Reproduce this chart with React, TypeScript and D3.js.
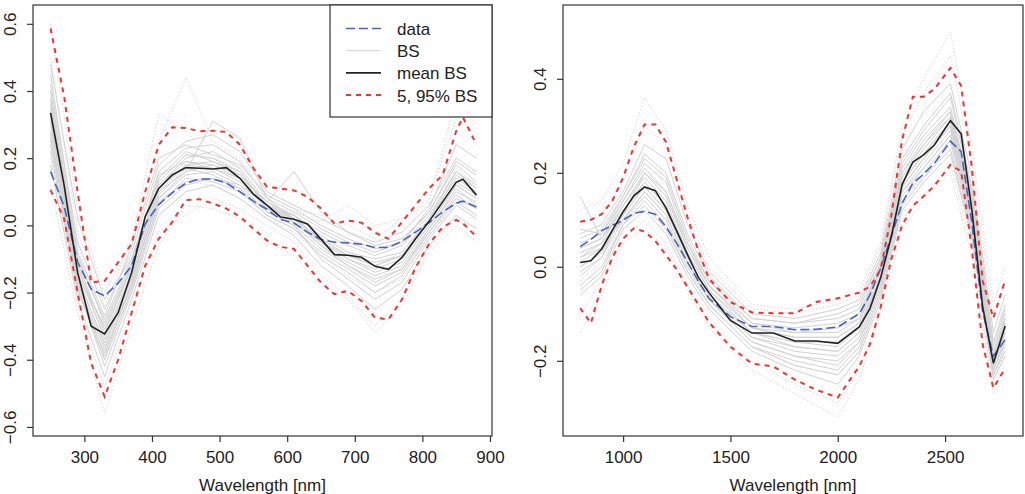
import React, { useEffect, useRef } from "react";
import * as d3 from "d3";

// ---- left panel (VIS) ----
const leftWavelengths = [
  250, 270, 290, 310, 330, 350, 370, 390, 410, 430, 450, 470, 490, 510, 530, 550,
  570, 590, 610, 630, 650, 670, 690, 710, 730, 750, 770, 790, 810, 830, 850, 860, 880,
];
const leftData = [
  0.16, 0.057, -0.109, -0.19, -0.21, -0.172, -0.12, 0.005, 0.062, 0.097, 0.125, 0.138,
  0.138, 0.126, 0.1, 0.072, 0.048, 0.018, 0.007, -0.02, -0.042, -0.05, -0.052, -0.056,
  -0.066, -0.066, -0.047, -0.02, 0.008, 0.04, 0.066, 0.072, 0.055,
];
const leftMean = [
  0.335, 0.12, -0.14, -0.3, -0.323, -0.26, -0.14, 0.026, 0.11, 0.15, 0.172, 0.17,
  0.168, 0.172, 0.14, 0.093, 0.06, 0.025, 0.018, 0.004, -0.041, -0.087, -0.089, -0.095,
  -0.122, -0.131, -0.095, -0.04, 0.012, 0.07, 0.128, 0.137, 0.09,
];
const leftUpper = [
  0.586, 0.385, 0.1, -0.17, -0.165, -0.11, -0.055, 0.1, 0.24, 0.292, 0.29, 0.28,
  0.282, 0.278, 0.24, 0.17, 0.115, 0.11, 0.104, 0.085, 0.05, 0.005, 0.014, 0.008,
  -0.022, -0.04, 0.01, 0.06, 0.11, 0.15, 0.28, 0.322, 0.24,
];
const leftLower = [
  0.105, 0.02, -0.2, -0.41, -0.51, -0.4, -0.26, -0.12, -0.04, 0.01, 0.075, 0.078,
  0.065, 0.05, 0.026, -0.01, -0.045, -0.064, -0.07, -0.12, -0.17, -0.205, -0.195, -0.225,
  -0.275, -0.28, -0.22, -0.125, -0.055, -0.005, 0.016, 0.006, -0.034,
];
const leftBsWavelengths = [250, 290, 330, 370, 410, 450, 490, 530, 570, 610, 650, 690, 730, 770, 810, 850, 880];
const leftBsSolid = [
  [0.30, -0.15, -0.30, -0.12, 0.12, 0.20, 0.22, 0.17, 0.07, 0.03, -0.03, -0.08, -0.10, -0.08, 0.02, 0.14, 0.10],
  [0.42, -0.05, -0.25, -0.08, 0.18, 0.25, 0.27, 0.22, 0.10, 0.06, 0.02, -0.02, -0.05, -0.02, 0.06, 0.20, 0.16],
  [0.22, -0.20, -0.38, -0.18, 0.06, 0.14, 0.13, 0.10, 0.03, -0.01, -0.08, -0.13, -0.18, -0.14, -0.02, 0.08, 0.05],
  [0.35, -0.12, -0.34, -0.15, 0.10, 0.16, 0.31, 0.26, 0.08, 0.02, -0.05, -0.10, -0.13, -0.10, 0.00, 0.12, 0.08],
  [0.48, 0.02, -0.22, -0.10, 0.15, 0.19, 0.18, 0.15, 0.07, 0.16, 0.04, -0.02, -0.06, -0.04, 0.04, 0.18, 0.13],
  [0.26, -0.18, -0.42, -0.20, 0.05, 0.12, 0.14, 0.12, 0.04, 0.00, -0.10, -0.16, -0.22, -0.17, -0.04, 0.06, 0.02],
  [0.38, -0.10, -0.28, -0.10, 0.14, 0.22, 0.19, 0.16, 0.05, 0.03, -0.02, -0.06, -0.09, -0.06, 0.03, 0.16, 0.12],
  [0.32, -0.16, -0.35, -0.16, 0.08, 0.15, 0.16, 0.12, 0.06, 0.01, -0.06, -0.11, -0.15, -0.12, -0.01, 0.10, 0.07],
  [0.45, -0.08, -0.27, -0.06, 0.20, 0.24, 0.21, 0.18, 0.09, 0.05, 0.00, -0.04, -0.07, -0.05, 0.05, 0.24, 0.20],
  [0.18, -0.22, -0.45, -0.22, 0.03, 0.10, 0.12, 0.08, 0.02, -0.03, -0.12, -0.18, -0.25, -0.19, -0.06, 0.03, -0.01],
  [0.36, -0.13, -0.31, -0.13, 0.11, 0.18, 0.17, 0.14, 0.07, 0.02, -0.04, -0.09, -0.11, -0.09, 0.01, 0.13, 0.09],
  [0.28, -0.17, -0.37, -0.17, 0.09, 0.17, 0.15, 0.11, 0.04, 0.00, -0.07, -0.12, -0.17, -0.13, -0.01, 0.11, 0.06],
  [0.33, -0.14, -0.33, -0.14, 0.13, 0.21, 0.20, 0.16, 0.06, 0.02, -0.04, -0.09, -0.12, -0.09, 0.01, 0.15, 0.11],
  [0.40, -0.09, -0.29, -0.11, 0.16, 0.23, 0.24, 0.19, 0.08, 0.04, -0.01, -0.05, -0.08, -0.05, 0.04, 0.19, 0.15],
  [0.24, -0.19, -0.40, -0.19, 0.07, 0.13, 0.14, 0.11, 0.03, -0.01, -0.09, -0.14, -0.20, -0.15, -0.03, 0.07, 0.03],
  [0.31, -0.15, -0.36, -0.15, 0.10, 0.18, 0.19, 0.15, 0.06, 0.03, -0.05, -0.10, -0.14, -0.11, 0.00, 0.12, 0.08],
  [0.37, -0.11, -0.32, -0.12, 0.12, 0.19, 0.17, 0.13, 0.05, 0.01, -0.05, -0.09, -0.12, -0.09, 0.02, 0.16, 0.11],
  [0.27, -0.17, -0.39, -0.17, 0.08, 0.16, 0.18, 0.14, 0.05, 0.02, -0.06, -0.12, -0.16, -0.13, -0.02, 0.09, 0.05],
];
const leftBsDotted = [
  [0.60, 0.05, -0.20, -0.05, 0.25, 0.44, 0.25, 0.20, 0.09, 0.05, 0.03, 0.00, -0.04, 0.02, 0.08, 0.32, 0.27],
  [0.12, -0.26, -0.56, -0.30, -0.06, 0.06, 0.05, 0.02, -0.05, -0.09, -0.18, -0.22, -0.32, -0.24, -0.08, 0.00, -0.05],
  [0.50, -0.02, -0.24, -0.04, 0.33, 0.28, 0.20, 0.17, 0.06, 0.04, 0.01, 0.06, 0.00, 0.02, 0.07, 0.38, 0.30],
  [0.20, -0.24, -0.48, -0.25, -0.02, 0.03, 0.08, 0.05, 0.00, -0.05, -0.15, -0.21, -0.30, -0.22, -0.07, 0.02, -0.03],
  [0.40, -0.06, -0.30, -0.12, 0.13, 0.21, 0.20, 0.15, 0.05, 0.02, -0.04, -0.08, -0.12, -0.08, 0.02, 0.17, 0.12],
  [0.25, -0.19, -0.40, -0.19, 0.07, 0.13, 0.12, 0.08, 0.02, -0.02, -0.09, -0.15, -0.20, -0.16, -0.03, 0.08, 0.03],
];
const leftXTicks = [300, 400, 500, 600, 700, 800, 900];
const leftYTicks = [-0.6, -0.4, -0.2, 0, 0.2, 0.4, 0.6];

// ---- right panel (SWIR) ----
const rightWavelengths = [
  800, 850, 900, 950, 1000, 1050, 1100, 1150, 1200, 1250, 1300, 1350, 1400, 1500, 1600,
  1700, 1800, 1900, 2000, 2100, 2150, 2200, 2250, 2300, 2350, 2400, 2450, 2525, 2575,
  2625, 2675, 2725, 2780,
];
const rightData = [
  0.043, 0.058, 0.077, 0.088, 0.099, 0.114, 0.118, 0.112, 0.085, 0.05, 0.01, -0.03, -0.067,
  -0.106, -0.127, -0.127, -0.134, -0.133, -0.128, -0.1, -0.06, -0.003, 0.066, 0.135, 0.178,
  0.197, 0.22, 0.267, 0.245, 0.093, -0.095, -0.19, -0.155,
];
const rightMean = [
  0.009, 0.013, 0.038, 0.078, 0.117, 0.151, 0.17, 0.162, 0.125, 0.076, 0.026, -0.022, -0.055,
  -0.114, -0.141, -0.141, -0.158, -0.158, -0.163, -0.128, -0.089, -0.023, 0.065, 0.175, 0.223,
  0.238, 0.259, 0.311, 0.283, 0.12, -0.085, -0.205, -0.126,
];
const rightUpper = [
  0.096, 0.1, 0.112, 0.14, 0.19, 0.255, 0.303, 0.303, 0.265, 0.185, 0.105, 0.035, -0.025,
  -0.075, -0.097, -0.099, -0.099, -0.075, -0.067, -0.055, -0.042, -0.005, 0.11, 0.27, 0.362,
  0.362, 0.378, 0.423, 0.385, 0.21, -0.03, -0.109, -0.028,
];
const rightLower = [
  -0.088, -0.12, -0.04, 0.02, 0.06, 0.082, 0.075, 0.055, 0.025, -0.006, -0.043, -0.08, -0.118,
  -0.17, -0.206, -0.212, -0.24, -0.262, -0.278, -0.212, -0.165, -0.085, 0.017, 0.088, 0.13,
  0.15, 0.172, 0.217, 0.203, 0.036, -0.165, -0.258, -0.216,
];
const rightBsWavelengths = [800, 900, 1000, 1100, 1200, 1300, 1400, 1600, 1800, 2000, 2100, 2200, 2300, 2400, 2525, 2625, 2725, 2780];
const rightBsSolid = [
  [0.02, 0.05, 0.13, 0.19, 0.14, 0.03, -0.05, -0.13, -0.15, -0.15, -0.12, 0.00, 0.19, 0.25, 0.32, 0.13, -0.20, -0.12],
  [0.06, 0.08, 0.15, 0.24, 0.20, 0.07, -0.02, -0.11, -0.12, -0.10, -0.08, 0.02, 0.23, 0.30, 0.37, 0.17, -0.16, -0.08],
  [-0.04, 0.00, 0.09, 0.14, 0.09, -0.01, -0.08, -0.17, -0.20, -0.22, -0.17, -0.05, 0.14, 0.20, 0.27, 0.08, -0.23, -0.17],
  [0.15, 0.06, 0.12, 0.17, 0.12, 0.02, -0.06, -0.14, -0.16, -0.17, -0.13, -0.02, 0.17, 0.23, 0.30, 0.11, -0.21, -0.14],
  [0.00, 0.03, 0.11, 0.20, 0.16, 0.05, -0.04, -0.12, -0.13, -0.12, -0.10, 0.01, 0.21, 0.28, 0.34, 0.15, -0.18, -0.10],
  [-0.06, -0.02, 0.08, 0.12, 0.07, -0.02, -0.09, -0.18, -0.22, -0.25, -0.19, -0.07, 0.12, 0.18, 0.24, 0.06, -0.24, -0.19],
  [0.04, 0.06, 0.14, 0.22, 0.18, 0.05, -0.03, -0.12, -0.14, -0.13, -0.11, 0.00, 0.20, 0.27, 0.33, 0.14, -0.19, -0.11],
  [0.01, 0.04, 0.10, 0.16, 0.11, 0.01, -0.07, -0.15, -0.18, -0.19, -0.15, -0.03, 0.16, 0.22, 0.29, 0.10, -0.22, -0.15],
  [0.07, 0.09, 0.16, 0.26, 0.23, 0.09, -0.01, -0.10, -0.11, -0.09, -0.07, 0.03, 0.25, 0.33, 0.39, 0.19, -0.14, -0.06],
  [-0.02, 0.02, 0.12, 0.18, 0.13, 0.02, -0.06, -0.14, -0.17, -0.18, -0.14, -0.02, 0.18, 0.24, 0.31, 0.12, -0.21, -0.13],
  [0.03, 0.05, 0.10, 0.15, 0.10, 0.00, -0.07, -0.16, -0.19, -0.21, -0.16, -0.04, 0.15, 0.21, 0.28, 0.09, -0.22, -0.16],
  [0.05, 0.07, 0.14, 0.21, 0.16, 0.04, -0.04, -0.13, -0.14, -0.14, -0.11, 0.01, 0.20, 0.26, 0.33, 0.14, -0.19, -0.11],
  [0.00, 0.03, 0.12, 0.18, 0.13, 0.03, -0.05, -0.14, -0.16, -0.16, -0.13, -0.01, 0.18, 0.24, 0.31, 0.12, -0.20, -0.13],
  [0.08, 0.07, 0.15, 0.23, 0.19, 0.06, -0.03, -0.11, -0.12, -0.11, -0.09, 0.02, 0.22, 0.29, 0.36, 0.16, -0.17, -0.09],
  [-0.05, -0.01, 0.09, 0.13, 0.08, -0.01, -0.08, -0.17, -0.21, -0.23, -0.18, -0.06, 0.13, 0.19, 0.25, 0.07, -0.23, -0.18],
  [0.02, 0.04, 0.11, 0.17, 0.12, 0.02, -0.06, -0.15, -0.17, -0.18, -0.14, -0.02, 0.17, 0.23, 0.30, 0.11, -0.21, -0.14],
  [0.04, 0.06, 0.13, 0.20, 0.15, 0.04, -0.04, -0.13, -0.15, -0.15, -0.12, 0.00, 0.19, 0.26, 0.32, 0.13, -0.19, -0.12],
  [-0.01, 0.02, 0.10, 0.16, 0.11, 0.01, -0.07, -0.16, -0.19, -0.20, -0.16, -0.04, 0.16, 0.21, 0.28, 0.10, -0.22, -0.16],
];
const rightBsDotted = [
  [0.12, 0.14, 0.22, 0.36, 0.29, 0.13, 0.02, -0.08, -0.09, -0.07, -0.05, 0.05, 0.30, 0.40, 0.50, 0.25, -0.08, 0.00],
  [-0.14, -0.06, 0.05, 0.08, 0.04, -0.05, -0.13, -0.22, -0.27, -0.32, -0.24, -0.10, 0.08, 0.14, 0.20, 0.02, -0.27, -0.23],
  [0.09, 0.11, 0.18, 0.30, 0.26, 0.11, 0.00, -0.09, -0.10, -0.08, -0.06, 0.04, 0.28, 0.37, 0.45, 0.22, -0.11, -0.03],
  [-0.10, -0.03, 0.06, 0.10, 0.05, -0.04, -0.12, -0.20, -0.25, -0.29, -0.22, -0.09, 0.10, 0.15, 0.22, 0.04, -0.26, -0.21],
  [0.03, 0.05, 0.13, 0.20, 0.15, 0.04, -0.05, -0.14, -0.16, -0.16, -0.12, 0.00, 0.18, 0.24, 0.31, 0.12, -0.20, -0.12],
  [-0.03, 0.01, 0.09, 0.15, 0.10, 0.00, -0.08, -0.17, -0.21, -0.23, -0.18, -0.05, 0.14, 0.19, 0.26, 0.07, -0.24, -0.18],
];
const rightXTicks = [1000, 1500, 2000, 2500];
const rightYTicks = [-0.2, 0, 0.2, 0.4];

const legendLabels = ["data", "BS", "mean BS", "5, 95% BS"];

const FONT = "'Liberation Sans', Arial, Helvetica, sans-serif";
const FONT_SIZE = 17;
const BLUE = "#4863c3";
const RED = "#ea3535";
const GREY = "#d2d2d2";

const App: React.FC = () => {
  const svgRef = useRef<SVGSVGElement>(null);

  useEffect(() => {
    if (!svgRef.current) return;
    const svg = d3.select(svgRef.current);
    svg.selectAll("*").remove();

    const top = 5;
    const bottom = 436;

    const panels = [
      {
        left: 33, right: 492, xDomain: [224, 903], yDomain: [-0.627, 0.656],
        wl: leftWavelengths, data: leftData, mean: leftMean, upper: leftUpper, lower: leftLower,
        bsWl: leftBsWavelengths, bsSolid: leftBsSolid, bsDotted: leftBsDotted,
        xTicks: leftXTicks, yTicks: leftYTicks, legend: true,
      },
      {
        left: 563, right: 1023, xDomain: [720, 2863], yDomain: [-0.36, 0.557],
        wl: rightWavelengths, data: rightData, mean: rightMean, upper: rightUpper, lower: rightLower,
        bsWl: rightBsWavelengths, bsSolid: rightBsSolid, bsDotted: rightBsDotted,
        xTicks: rightXTicks, yTicks: rightYTicks, legend: false,
      },
    ];

    const fmtY = (v: number) => d3.format(".1f")(v).replace("-", "\u2212");

    panels.forEach((p) => {
      const x = d3.scaleLinear().domain(p.xDomain).range([p.left, p.right]);
      const y = d3.scaleLinear().domain(p.yDomain).range([bottom, top]);
      const lineFor = (wl: number[]) =>
        d3.line<number>().x((_, i) => x(wl[i])).y((d) => y(d));

      const g = svg.append("g");

      // bootstrap curves
      g.append("g")
        .selectAll("path")
        .data(p.bsDotted)
        .join("path")
        .attr("d", (d) => lineFor(p.bsWl)(d))
        .attr("fill", "none")
        .attr("stroke", "#d8d8d8")
        .attr("stroke-width", 1)
        .attr("stroke-dasharray", "1.5,2");

      g.append("g")
        .selectAll("path")
        .data(p.bsSolid)
        .join("path")
        .attr("d", (d) => lineFor(p.bsWl)(d))
        .attr("fill", "none")
        .attr("stroke", GREY)
        .attr("stroke-width", 1);

      g.append("path")
        .attr("d", lineFor(p.wl)(p.data))
        .attr("fill", "none")
        .attr("stroke", BLUE)
        .attr("stroke-width", 1.6)
        .attr("stroke-dasharray", "9,4");

      g.append("path")
        .attr("d", lineFor(p.wl)(p.mean))
        .attr("fill", "none")
        .attr("stroke", "#222")
        .attr("stroke-width", 1.6);

      [p.upper, p.lower].forEach((band) => {
        g.append("path")
          .attr("d", lineFor(p.wl)(band))
          .attr("fill", "none")
          .attr("stroke", RED)
          .attr("stroke-width", 2)
          .attr("stroke-dasharray", "5,5");
      });

      // box
      g.append("rect")
        .attr("x", p.left)
        .attr("y", top)
        .attr("width", p.right - p.left)
        .attr("height", bottom - top)
        .attr("fill", "none")
        .attr("stroke", "#333")
        .attr("stroke-width", 1.2);

      // x axis
      const xAxis = g.append("g")
        .attr("transform", `translate(0,${bottom})`)
        .call(d3.axisBottom(x).tickValues(p.xTicks).tickSize(6).tickSizeOuter(0).tickFormat(d3.format("d")));
      xAxis.select(".domain").remove();
      xAxis.selectAll(".tick line").attr("stroke", "#333").attr("stroke-width", 1.2);
      xAxis.selectAll(".tick text")
        .attr("y", 27)
        .attr("dy", 0)
        .attr("fill", "#222")
        .style("font-family", FONT)
        .style("font-size", `${FONT_SIZE}px`);

      // y axis
      const yAxis = g.append("g")
        .attr("transform", `translate(${p.left},0)`)
        .call(d3.axisLeft(y).tickValues(p.yTicks).tickSize(6).tickSizeOuter(0).tickFormat((d) => fmtY(d as number)));
      yAxis.select(".domain").remove();
      yAxis.selectAll(".tick line").attr("stroke", "#333").attr("stroke-width", 1.2);
      yAxis.selectAll(".tick text")
        .attr("transform", "rotate(-90)")
        .attr("x", 0)
        .attr("y", -17)
        .attr("dy", 0)
        .attr("text-anchor", "middle")
        .attr("fill", "#222")
        .style("font-family", FONT)
        .style("font-size", `${FONT_SIZE}px`);

      g.append("text")
        .attr("x", (p.left + p.right) / 2)
        .attr("y", 491)
        .attr("text-anchor", "middle")
        .attr("fill", "#222")
        .style("font-family", FONT)
        .style("font-size", `${FONT_SIZE}px`)
        .text("Wavelength [nm]");

      if (p.legend) {
        const lg = g.append("g");
        lg.append("rect")
          .attr("x", 330)
          .attr("y", top)
          .attr("width", p.right - 330)
          .attr("height", 112)
          .attr("fill", "white")
          .attr("stroke", "#333")
          .attr("stroke-width", 1.2);
        const styles = [
          { stroke: BLUE, width: 1.6, dash: "9,4" },
          { stroke: GREY, width: 1, dash: null },
          { stroke: "#222", width: 1.6, dash: null },
          { stroke: RED, width: 2, dash: "5,5" },
        ];
        legendLabels.forEach((label, i) => {
          const by = 35 + i * 22.2;
          const s = styles[i];
          const ln = lg.append("line")
            .attr("x1", 346)
            .attr("x2", 381)
            .attr("y1", by - 6.5)
            .attr("y2", by - 6.5)
            .attr("stroke", s.stroke)
            .attr("stroke-width", s.width);
          if (s.dash) ln.attr("stroke-dasharray", s.dash);
          lg.append("text")
            .attr("x", 397)
            .attr("y", by)
            .attr("fill", "#222")
            .style("font-family", FONT)
            .style("font-size", `${FONT_SIZE}px`)
            .text(label);
        });
      }
    });
  }, []);

  return (
    <svg
      ref={svgRef}
      width={1025}
      height={494}
      style={{ position: "absolute", left: 0, top: 0, background: "white" }}
    />
  );
};

export default App;
